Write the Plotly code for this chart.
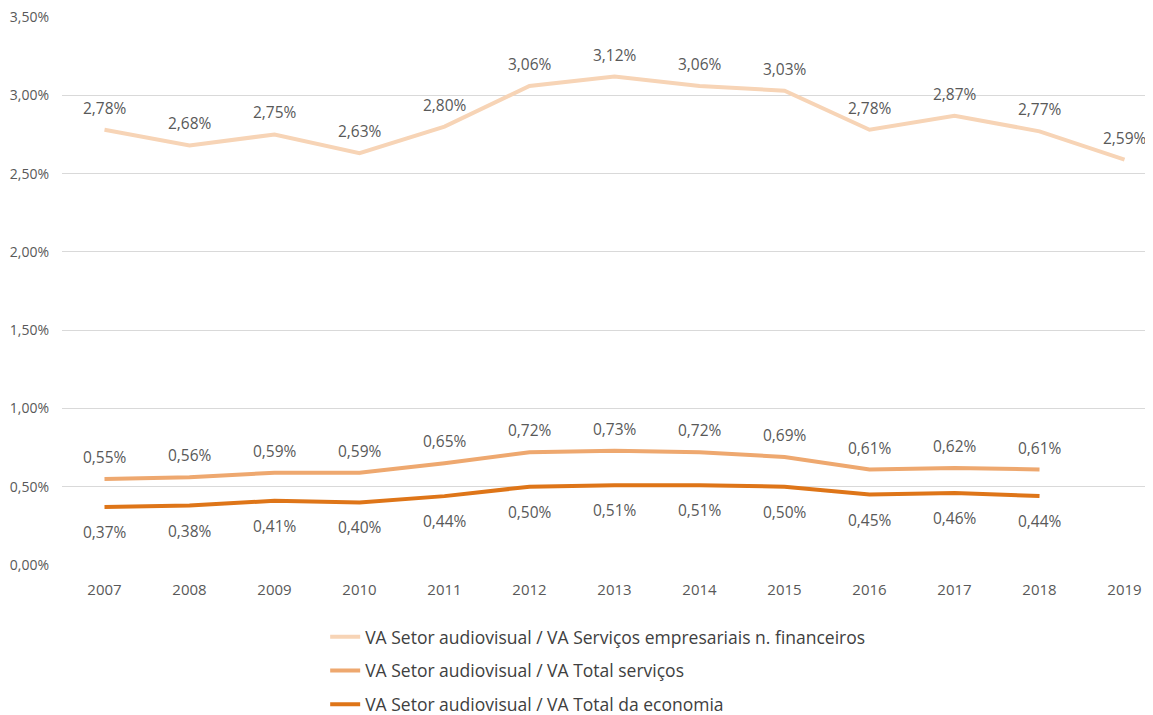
import plotly.graph_objects as go

years = [2007, 2008, 2009, 2010, 2011, 2012, 2013, 2014, 2015, 2016, 2017, 2018, 2019]
s_empresariais = [2.78, 2.68, 2.75, 2.63, 2.80, 3.06, 3.12, 3.06, 3.03, 2.78, 2.87, 2.77, 2.59]
s_servicos = [0.55, 0.56, 0.59, 0.59, 0.65, 0.72, 0.73, 0.72, 0.69, 0.61, 0.62, 0.61]
s_economia = [0.37, 0.38, 0.41, 0.40, 0.44, 0.50, 0.51, 0.51, 0.50, 0.45, 0.46, 0.44]
names = ["VA Setor audiovisual / VA Serviços empresariais n. financeiros",
         "VA Setor audiovisual / VA Total serviços",
         "VA Setor audiovisual / VA Total da economia"]
colors = ["#F7D4B6", "#EEA86F", "#DE7518"]
y_ticks = [0, 0.5, 1.0, 1.5, 2.0, 2.5, 3.0, 3.5]

def fmt(v):
    return f"{v:.2f}".replace(".", ",") + "%"

fig = go.Figure()
series = [s_empresariais, s_servicos, s_economia]
shifts = [22, 22, -25]
annotations = []
for i, (vals, name, col, sh) in enumerate(zip(series, names, colors, shifts)):
    xs = years[:len(vals)]
    fig.add_trace(go.Scatter(x=xs, y=vals, name=name, mode="lines", legendgroup=f"g{i}",
                             line=dict(color=col, width=4)))
    for x, v in zip(xs, vals):
        annotations.append(dict(x=x, y=v, text=fmt(v), showarrow=False, yshift=sh,
                                font=dict(size=15.5, color="#595959")))

fig.update_layout(
    width=1145, height=707,
    margin=dict(l=54, r=0, t=9, b=150),
    plot_bgcolor="white", paper_bgcolor="white",
    font=dict(family="Open Sans", color="#595959"),
    annotations=annotations,
    showlegend=True,
    legend=dict(orientation="v", x=0.491, xanchor="center", xref="paper",
                y=0.136, yanchor="top", yref="container",
                font=dict(size=17.5, color="#404040"), tracegroupgap=8),
    xaxis=dict(range=[2006.5, 2019.335], tickmode="array", tickvals=years,
               ticktext=[str(y) for y in years], showgrid=False, zeroline=False,
               tickfont=dict(size=15, color="#595959"), ticks="", ticklabelstandoff=14,
               automargin=False, ticklabeloverflow="allow"),
    yaxis=dict(range=[0, 3.5005], tickmode="array", tickvals=y_ticks,
               ticktext=[fmt(v) for v in y_ticks], showgrid=True, gridcolor="#D9D9D9",
               gridwidth=1, zeroline=False, tickfont=dict(size=14, color="#595959"),
               ticks="", ticklen=0, ticklabelstandoff=12, automargin=False,
               ticklabeloverflow="allow"),
)
fig.write_html("out.html")
